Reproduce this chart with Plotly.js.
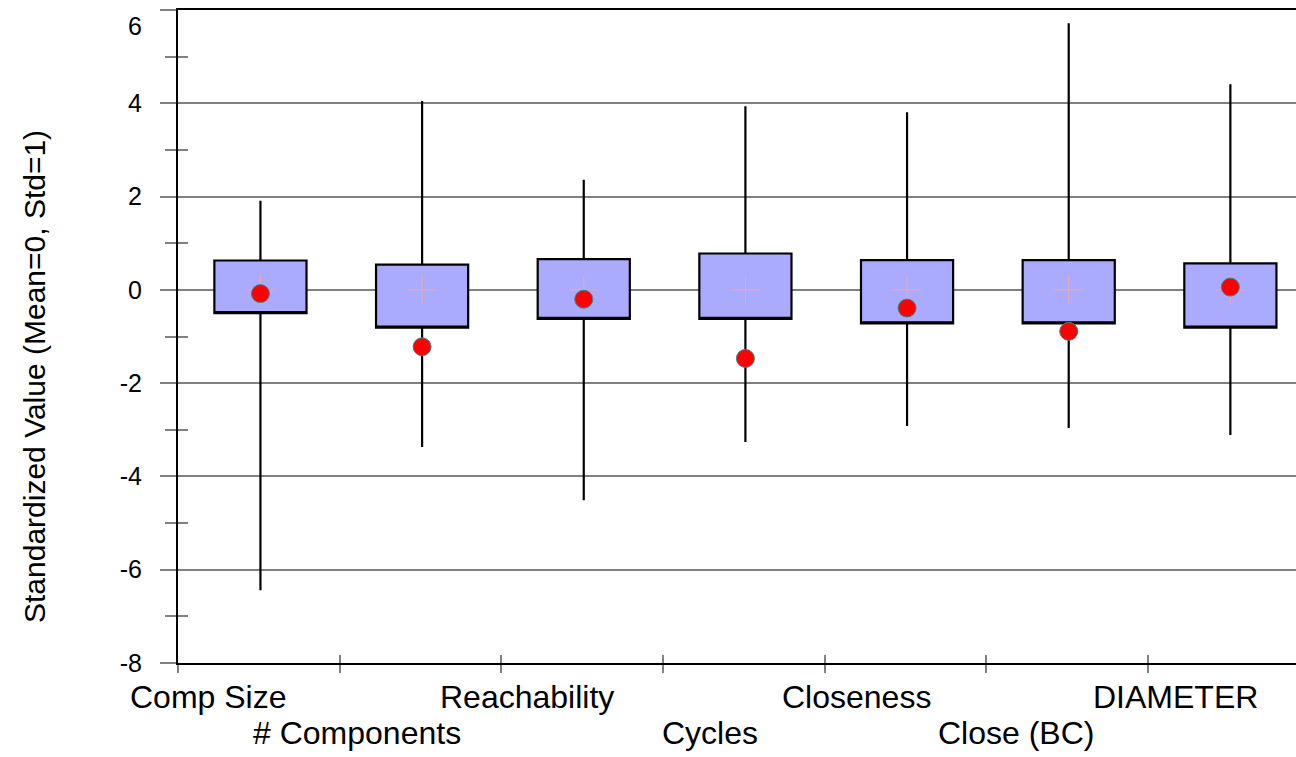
<!DOCTYPE html>
<html>
<head>
<meta charset="utf-8">
<script src="https://cdn.plot.ly/plotly-3.0.1.min.js"></script>
<style>
  html, body { margin: 0; padding: 0; background: #ffffff; overflow: hidden; }
  #chart { width: 1296px; height: 757px; }
</style>
</head>
<body>
<div id="chart"></div>
<script>
// ---- data ----
const categories = ['Comp Size', '# Components', 'Reachability', 'Cycles', 'Closeness', 'Close (BC)', 'DIAMETER'];
const q1 = [-0.50, -0.81, -0.62, -0.62, -0.72, -0.72, -0.81];
const q3 = [0.63, 0.54, 0.66, 0.78, 0.64, 0.64, 0.57];
const whiskerLow = [-6.44, -3.37, -4.51, -3.26, -2.92, -2.96, -3.11];
const whiskerHigh = [1.91, 4.05, 2.36, 3.94, 3.81, 5.72, 4.41];
const means = [0, 0, 0, 0, 0, 0, 0];
const observed = [-0.08, -1.22, -0.20, -1.47, -0.39, -0.89, 0.06];
const yTickVals = [-8, -6, -4, -2, 0, 2, 4, 6];
const yTickText = ['-8', '-6', '-4', '-2', '0', '2', '4', '6'];

// ---- layout helpers (positions, not data) ----
const positions = categories.map((c, i) => i + 0.51);
const labelX = [0.186, 1.107, 2.159, 3.288, 4.195, 5.186, 6.172];
const xRange = [0, 6.916];
const yRange = [-8.002, 6.002];
const FONT = 'Liberation Sans, Arial, sans-serif';
const GRAY = '#808080';
// the top label sits a little below its tick (as in the reference) so it is not cut by the page edge
const yTickTextShown = yTickText.map((t, i) => i === yTickText.length - 1 ? '<br>' + t : t);

const traces = [
  {
    type: 'box',
    x: positions,
    q1: q1,
    median: q1,
    q3: q3,
    lowerfence: whiskerLow,
    upperfence: whiskerHigh,
    width: 0.57,
    whiskerwidth: 0,
    boxpoints: false,
    fillcolor: '#AAAAFF',
    line: { color: '#000000', width: 2.2 },
    hoverinfo: 'skip',
    showlegend: false
  },
  {
    type: 'scatter',
    mode: 'markers',
    x: positions,
    y: means,
    marker: { symbol: 'cross-thin', size: 21, line: { color: '#F4A6A6', width: 1 } },
    hoverinfo: 'skip',
    showlegend: false
  },
  {
    type: 'scatter',
    mode: 'markers',
    x: positions,
    y: observed,
    marker: { symbol: 'circle', size: 18, color: '#FF0000', line: { color: '#2E8B8B', width: 1 } },
    hoverinfo: 'skip',
    showlegend: false
  },
  {
    type: 'scatter', mode: 'markers', x: [], y: [],
    xaxis: 'x2', yaxis: 'y2', hoverinfo: 'skip', showlegend: false
  }
];

const annotations = categories.map((c, i) => ({
  text: c,
  x: labelX[i],
  xref: 'x',
  y: i % 2 === 0 ? -0.052 : -0.107,
  yref: 'paper',
  xanchor: 'center',
  yanchor: 'middle',
  showarrow: false,
  font: { family: FONT, size: 32, color: '#000000' }
}));
annotations.push({
  text: 'Standardized Value (Mean=0, Std=1)',
  textangle: -90,
  x: (35 - 178) / (1296 - 178),
  xref: 'paper',
  y: 0.438,
  yref: 'paper',
  xanchor: 'center',
  yanchor: 'middle',
  showarrow: false,
  font: { family: FONT, size: 30, color: '#000000' }
});

const layout = {
  width: 1296,
  height: 757,
  margin: { l: 178, r: 0, t: 10, b: 94, pad: 0 },
  paper_bgcolor: '#ffffff',
  plot_bgcolor: '#ffffff',
  font: { family: FONT, color: '#000000' },
  showlegend: false,
  xaxis: {
    range: xRange,
    tickmode: 'linear', tick0: 0, dtick: 1,
    ticks: 'outside', ticklen: 8, tickwidth: 2, tickcolor: GRAY,
    showticklabels: false,
    showgrid: false, zeroline: false,
    showline: true, linecolor: '#000000', linewidth: 2, mirror: true,
    fixedrange: true
  },
  xaxis2: {
    range: xRange, overlaying: 'x', anchor: 'y2', side: 'bottom',
    tickmode: 'linear', tick0: 0, dtick: 1,
    ticks: 'inside', ticklen: 8, tickwidth: 2, tickcolor: GRAY,
    showticklabels: false, showgrid: false, zeroline: false, showline: false
  },
  yaxis: {
    range: yRange,
    tickmode: 'array', tickvals: yTickVals, ticktext: yTickTextShown,
    ticks: 'outside', ticklen: 16, tickwidth: 2, tickcolor: GRAY,
    ticklabelstandoff: 13,
    ticklabeloverflow: 'allow',
    tickfont: { family: FONT, size: 25, color: '#000000' },
    showgrid: true, gridcolor: GRAY, gridwidth: 2,
    zeroline: false,
    showline: true, linecolor: '#000000', linewidth: 2, mirror: false,
    minor: { dtick: 1, tick0: 0, ticks: 'outside', ticklen: 11, tickwidth: 2, tickcolor: GRAY, showgrid: false },
    fixedrange: true
  },
  yaxis2: {
    range: yRange, overlaying: 'y', anchor: 'x', side: 'left',
    tickmode: 'array', tickvals: yTickVals,
    ticks: 'inside', ticklen: 17, tickwidth: 2, tickcolor: GRAY,
    showticklabels: false, showgrid: false, zeroline: false, showline: false,
    minor: { dtick: 1, tick0: 0, ticks: 'inside', ticklen: 10, tickwidth: 2, tickcolor: GRAY, showgrid: false }
  },
  annotations: annotations
};

Plotly.newPlot('chart', traces, layout, { staticPlot: true, displayModeBar: false });
</script>
</body>
</html>
